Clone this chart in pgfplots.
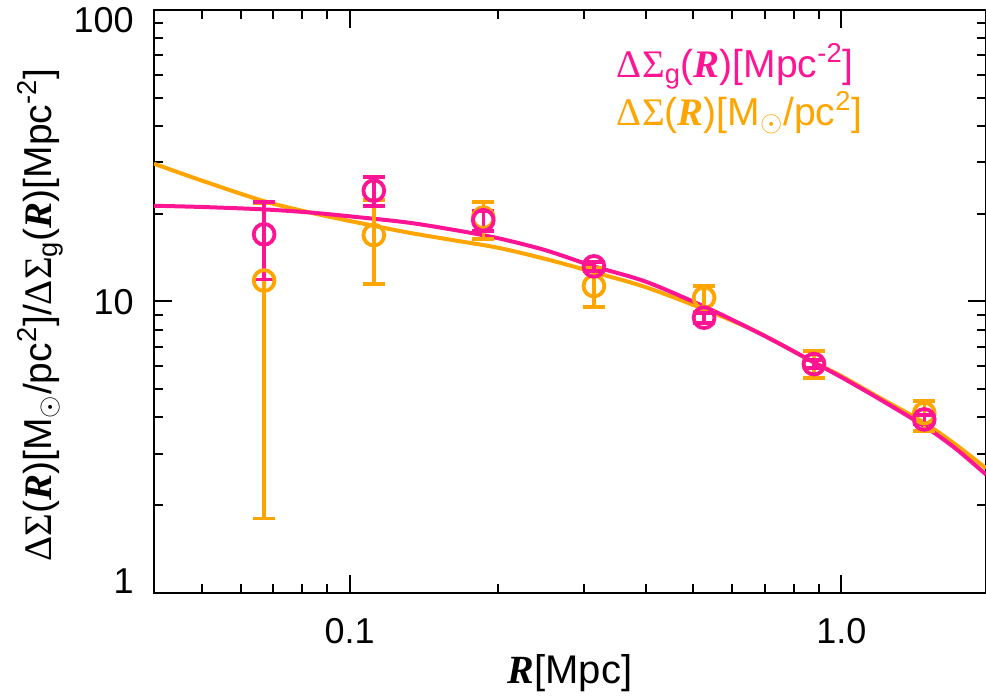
\documentclass[border=0pt]{standalone}
\usepackage{fontspec}
\setmainfont{Liberation Sans}
\newfontfamily\serif{Liberation Serif}
\usepackage{pgfplots}
\pgfplotsset{compat=1.18}
\usepackage{pgfplotstable}
\definecolor{dpink}{RGB}{255,20,147}
\definecolor{dorange}{RGB}{255,165,0}
\newcommand{\DS}{{\serif ΔΣ}}
\newcommand{\RR}{{\serif\bfseries\itshape R}}
\newcommand{\lab}{\fontsize{19.5bp}{23bp}\selectfont}

\pgfplotstableread{
x y
0.04 21.3
0.05 21.1
0.0669 20.7
0.083 20.2
0.1 19.6
0.13 18.7
0.16 17.7
0.2 16.5
0.25 15.0
0.314 13.2
0.4 11.7
0.527 9.6
0.65 8.1
0.745 7.2
0.877 6.2
1.0 5.5
1.19 4.65
1.47 3.75
1.7 3.15
1.97 2.55
}\pinkcurve

\pgfplotstableread{
x y
0.04 29.7
0.05 26.0
0.0669 22.1
0.083 20.2
0.1 18.9
0.13 17.3
0.16 16.3
0.2 15.3
0.25 14.0
0.314 12.6
0.4 11.2
0.527 9.4
0.65 8.1
0.745 7.2
0.877 6.2
1.0 5.55
1.19 4.7
1.47 3.85
1.7 3.25
1.97 2.68
}\orangecurve

\pgfplotstableread{
x y ep em
0.067 17.0 5.0 5.1
0.112 24.0 2.8 2.7
0.187 19.0 1.5 1.5
0.314 13.2 0.45 0.45
0.526 8.8 0.35 0.35
0.88 6.1 0.2 0.2
1.475 3.94 0.15 0.15
}\pinkdata

\pgfplotstableread{
x y ep em
0.067 11.8 10.0 10.0
0.112 16.9 5.4 5.4
0.187 19.4 2.5 3.0
0.314 11.3 1.75 1.75
0.526 10.3 1.0 1.1
0.88 6.1 0.66 0.65
1.475 4.14 0.43 0.54
}\orangedata

\begin{document}
\fontsize{18bp}{21bp}\selectfont
\begin{tikzpicture}
\begin{axis}[
  name=ax,
  xmode=log, ymode=log,
  scale only axis,
  width=416bp, height=291.5bp,
  xmin=0.04, xmax=1.97, ymin=1, ymax=100,
  xtick={0.1,1}, xticklabels={0.1,1.0},
  ytick={1,10,100},
  yticklabels={\raisebox{0bp}[0pt][0pt]{1},\raisebox{-6.45bp}[0pt][0pt]{10},\raisebox{-11.5bp}[0pt][0pt]{100}},
  minor xtick={0.05,0.06,0.07,0.08,0.09,0.2,0.3,0.4,0.5,0.6,0.7,0.8,0.9},
  minor ytick={2,3,4,5,6,7,8,9,20,30,40,50,60,70,80,90},
  major tick length=9bp, minor tick length=4.5bp,
  tick style={black, line width=1bp},
  axis line style={line width=1bp},
  xticklabel style={yshift=-6.5bp},
  yticklabel style={anchor=east, xshift=-4bp},
  xlabel={\fontsize{20bp}{24bp}\selectfont\RR[Mpc]},
  ylabel={\lab\DS(\RR)[M$_\odot$/pc\textsuperscript{2}]/\DS\textsubscript{g}(\RR)[Mpc\textsuperscript{-2}]},
  every axis x label/.style={at={(rel axis cs:0.5,0)}, yshift=-40bp, anchor=center},
  every axis y label/.style={at={(rel axis cs:0,0.477)}, xshift=-57bp, rotate=90, anchor=center},
]
\addplot[color=dorange, line width=2bp, smooth] table[x=x,y=y] {\orangecurve};
\addplot[color=dpink, line width=2bp, smooth] table[x=x,y=y] {\pinkcurve};
\addplot[only marks, mark=o, color=dorange, mark size=5.2bp, mark options={line width=1.9bp},
  error bars/.cd, y dir=both, y explicit,
  error bar style={line width=1.7bp},
  error mark options={rotate=90, mark size=5.5bp, line width=1.9bp}]
  table[x=x, y=y, y error plus=ep, y error minus=em] {\orangedata};
\addplot[only marks, mark=o, color=dpink, mark size=5.2bp, mark options={line width=1.9bp},
  error bars/.cd, y dir=both, y explicit,
  error bar style={line width=1.7bp},
  error mark options={rotate=90, mark size=5.5bp, line width=1.9bp}]
  table[x=x, y=y, y error plus=ep, y error minus=em] {\pinkdata};
\node[anchor=west, text=dpink, inner sep=0pt] at (rel axis cs:0.556,0.904) {\lab\DS\textsubscript{g}(\RR)[Mpc\textsuperscript{-2}]};
\node[anchor=west, text=dorange, inner sep=0pt] at (rel axis cs:0.556,0.824) {\lab\DS(\RR)[M$_\odot$/pc\textsuperscript{2}]};
\end{axis}
\pgfresetboundingbox
\path ([xshift=-77bp,yshift=-53bp]ax.south west) rectangle ([yshift=5bp]ax.north east);
\end{tikzpicture}
\end{document}
